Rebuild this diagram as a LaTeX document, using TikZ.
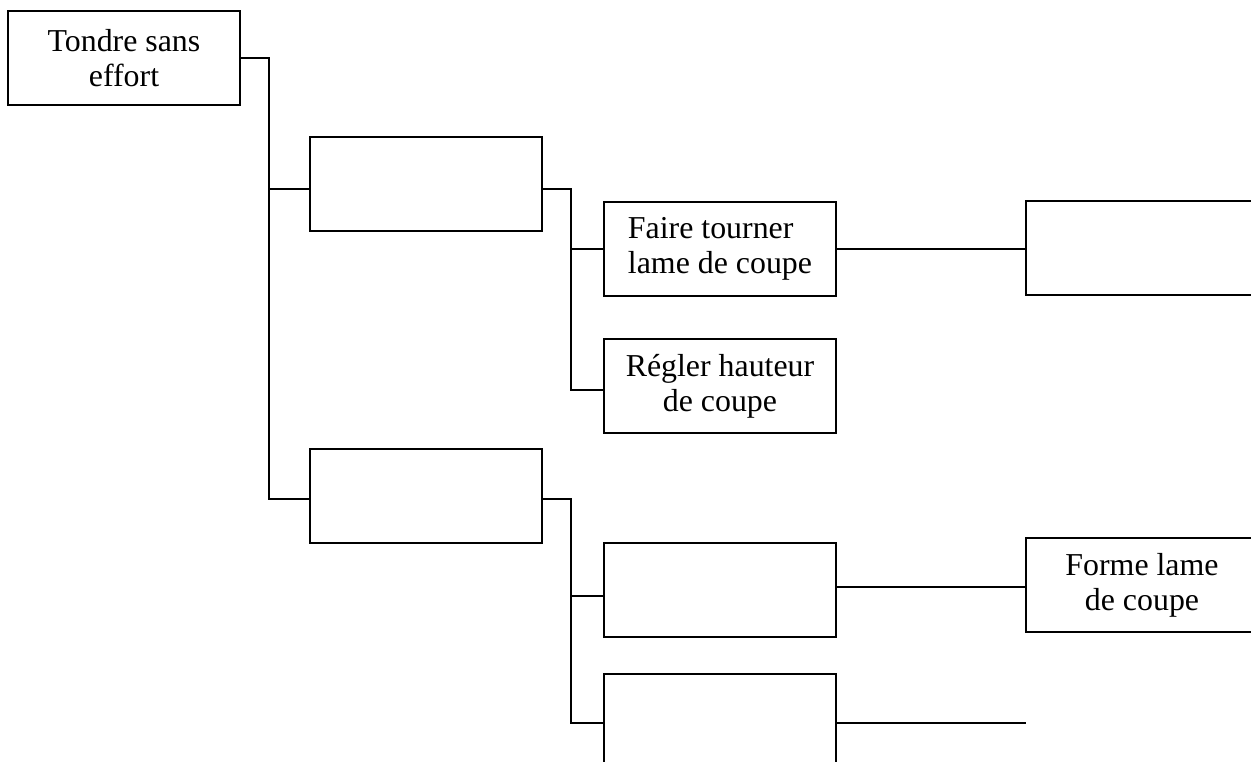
\documentclass[tikz,border=0pt]{standalone}
\usepackage{fontspec}
\setmainfont{Liberation Serif}
\usetikzlibrary{positioning}

\tikzset{
  fbox/.style={draw, line width=0.8pt, minimum width=91pt, minimum height=36.9pt,
    inner sep=0pt, align=center, font=\fontsize{12.5}{13.7}\selectfont},
  link/.style={line width=0.8pt},
}

\begin{document}
\begin{tikzpicture}[x=0.3922pt,y=-0.3922pt]
  \useasboundingbox (0,0) rectangle (1251,762);
  \clip (0,0) rectangle (1251,762);
  % level 0
  \node[fbox] (tondre) at (124,58) {Tondre sans\\effort};
  % level 1
  \node[fbox] (fp1) at (426,184) {};
  \node[fbox] (fp2) at (426,496) {};
  % level 2
  \node[fbox,align=left] (tourner) at (720,249) {Faire tourner\\lame de coupe};
  \node[fbox] (regler) at (720,386) {R\'egler hauteur\\de coupe};
  \node[fbox] (fs3) at (720,590) {};
  \node[fbox] (fs4) at (720,721) {};
  % level 3
  \node[fbox] (sol1) at (1142,248) {};
  \node[fbox] (forme) at (1142,585) {Forme lame\\de coupe};
  \coordinate (open) at (1026,723);

  \draw[link] (tondre.east) -- ++(28,0) |- ([yshift=-2pt]fp1.west);
  \draw[link] (tondre.east) -- ++(28,0) |- ([yshift=-1pt]fp2.west);
  \draw[link] ([yshift=-2pt]fp1.east) -- ++(28,0) |- (tourner.west);
  \draw[link] ([yshift=-2pt]fp1.east) -- ++(28,0) |- ([yshift=-1.6pt]regler.west);
  \draw[link] ([yshift=-1pt]fp2.east) -- ++(28,0) |- ([yshift=-2.2pt]fs3.west);
  \draw[link] ([yshift=-1pt]fp2.east) -- ++(28,0) |- (open -| fs4.west);
  \draw[link] (tourner.east) -- (sol1.west |- tourner.east);
  \draw[link] ([yshift=1pt]fs3.east) -- ([yshift=1pt]forme.west |- fs3.east);
  \draw[link] (open -| fs4.east) -- (open);
\end{tikzpicture}
\end{document}
